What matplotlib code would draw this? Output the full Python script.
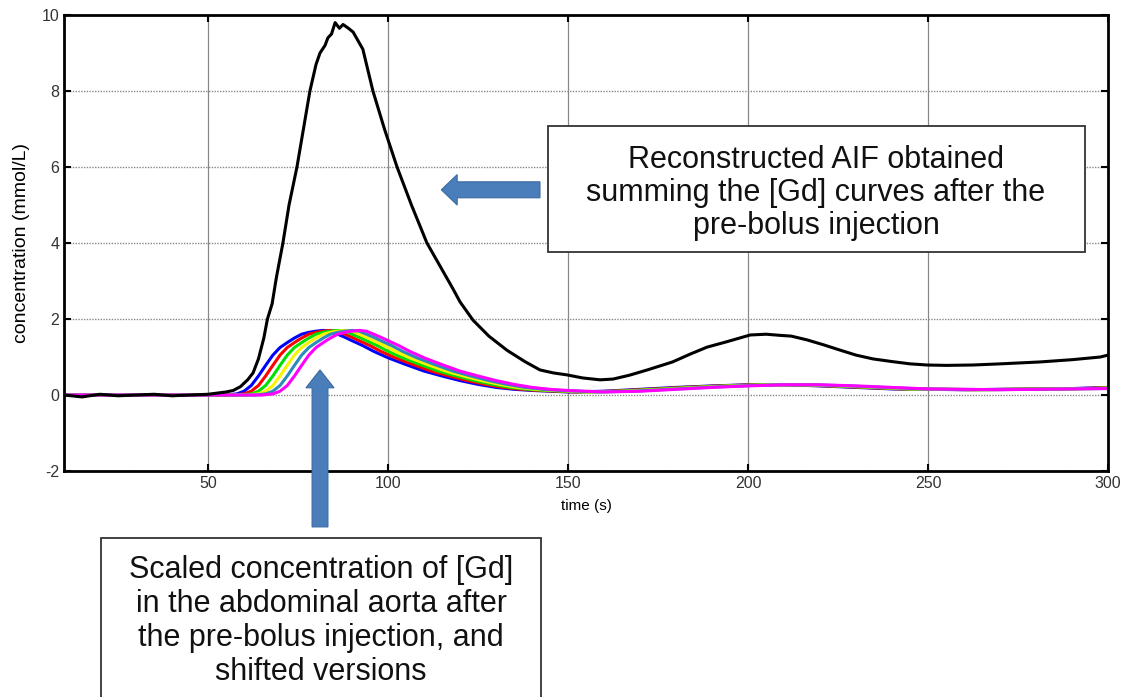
import matplotlib
matplotlib.use('Agg')
import matplotlib.pyplot as plt
from matplotlib.patches import Rectangle, FancyArrow

plt.rcParams['font.family'] = ['Liberation Sans', 'DejaVu Sans']
plt.rcParams['axes.unicode_minus'] = False

# reconstructed AIF (black curve)
aif_t = [10, 15, 20, 25, 30, 35, 40, 45, 50, 55, 57, 59, 61, 62.5, 64, 65.5, 66.5, 67.8, 69,
         70.8, 72.5, 74.7, 76.5, 78.3, 80, 81.1, 82.5, 83.3, 84.3, 85.3, 86.5, 87.5, 89, 90.3,
         91.5, 93, 95.8, 99, 102.5, 106.5, 110.8, 114.4, 118, 120, 123.6, 128, 133, 138,
         142.2, 146, 149.7, 154, 158.9, 162.5, 167, 172, 179, 184, 188.6, 194, 200.6, 205,
         208.9, 212, 216.4, 221, 225.6, 230, 234.7, 240, 245, 249.7, 255, 262.5, 270, 281,
         290, 297.8, 300]
aif_c = [0.0, -0.05, 0.02, -0.02, 0.0, 0.02, -0.02, 0.0, 0.02, 0.08, 0.12, 0.22, 0.4, 0.58,
         0.95, 1.5, 2.0, 2.4, 3.1, 4.0, 5.0, 6.0, 7.0, 8.0, 8.7, 9.0, 9.2, 9.4, 9.5, 9.8,
         9.65, 9.75, 9.65, 9.55, 9.35, 9.1, 8.0, 7.0, 6.0, 5.0, 4.0, 3.4, 2.8, 2.45, 1.97,
         1.55, 1.18, 0.88, 0.66, 0.58, 0.53, 0.45, 0.4, 0.42, 0.52, 0.66, 0.87, 1.08, 1.26,
         1.4, 1.58, 1.6, 1.57, 1.55, 1.45, 1.32, 1.18, 1.05, 0.95, 0.88, 0.82, 0.79, 0.78,
         0.79, 0.82, 0.87, 0.93, 1.0, 1.05]

# scaled pre-bolus [Gd] curve and its shifted versions
pre_t = [0, 10, 20, 30, 40, 50, 55, 58, 60, 62, 64, 66, 68, 70, 72, 74, 76, 78, 80, 82,
         84, 86, 88, 90, 93, 96, 100, 105, 110, 115, 120, 125, 130, 135, 140, 150, 160,
         170, 180, 190, 200, 210, 220, 230, 240, 250, 260, 270, 280, 290, 300]
pre_c = [0.0, 0.0, 0.0, 0.0, 0.0, 0.0, 0.0, 0.03, 0.1, 0.25, 0.5, 0.78, 1.05, 1.25, 1.38,
         1.5, 1.6, 1.65, 1.68, 1.7, 1.68, 1.6, 1.52, 1.43, 1.3, 1.15, 0.98, 0.8, 0.63, 0.5,
         0.38, 0.28, 0.2, 0.15, 0.12, 0.08, 0.1, 0.15, 0.2, 0.24, 0.27, 0.27, 0.24, 0.2,
         0.16, 0.15, 0.14, 0.15, 0.16, 0.17, 0.2]
shifts = [0, 2, 4, 6, 8, 10]
shift_colors = ['#0000ff', '#ff0000', '#00e000', '#f5f500', '#2a8cb8', '#ff00ff']

fig = plt.figure(figsize=(11.25, 6.97), dpi=100)
ax = fig.add_axes([0.0569, 0.3242, 0.9281, 0.6543])

for s, col in zip(shifts, shift_colors):
    ax.plot([t + s for t in pre_t], pre_c, color=col, lw=2.2)
ax.plot(aif_t, aif_c, color='black', lw=2.2)

ax.set_xlim(10, 300)
ax.set_ylim(-2, 10)
ax.set_xticks([50, 100, 150, 200, 250, 300])
ax.set_yticks([-2, 0, 2, 4, 6, 8, 10])
ax.tick_params(direction='in', top=True, right=True, length=5, width=1.5,
               labelsize=11.5, labelcolor='#333333')
ax.xaxis.grid(True, color='#888888', lw=0.9, ls='-')
ax.yaxis.grid(True, color='#888888', lw=1.0, ls=(0, (1, 1)))
ax.set_axisbelow(True)
for sp in ax.spines.values():
    sp.set_linewidth(2.0)
ax.set_xlabel('time (s)', fontsize=11, labelpad=6)
ax.set_ylabel('concentration (mmol/L)', fontsize=14, labelpad=8)

# block arrows
arrow_col = '#4a7ebb'
ax.add_patch(FancyArrow(142.2, 5.4, -23.0, 0, width=0.42, head_width=0.8,
                        head_length=4.4, length_includes_head=False,
                        color=arrow_col, ec='#3a6aa0', lw=0.8, zorder=5))
ax.add_patch(FancyArrow(81.1, -3.47, 0, 3.66, width=4.4, head_width=7.8,
                        head_length=0.47, length_includes_head=False,
                        color=arrow_col, ec='#3a6aa0', lw=0.8, zorder=5, clip_on=False))

W, H = 1125, 697
def box(x0, y0, x1, y1):
    r = Rectangle((x0 / W, 1 - y1 / H), (x1 - x0) / W, (y1 - y0) / H,
                  transform=fig.transFigure, facecolor='white', edgecolor='#333333',
                  lw=1.3, zorder=10)
    fig.add_artist(r)

box(548, 126, 1085, 252)
fig.text(816 / W, 1 - 193 / H,
         'Reconstructed AIF obtained\nsumming the [Gd] curves after the\npre-bolus injection',
         ha='center', va='center', fontsize=22, linespacing=1.14, color='#111111', zorder=11)

box(101, 538, 541, 705)
fig.text(321 / W, 1 - 621 / H,
         'Scaled concentration of [Gd]\nin the abdominal aorta after\nthe pre-bolus injection, and\nshifted versions',
         ha='center', va='center', fontsize=22, linespacing=1.17, color='#111111', zorder=11)

fig.savefig('out.png', dpi=100)
